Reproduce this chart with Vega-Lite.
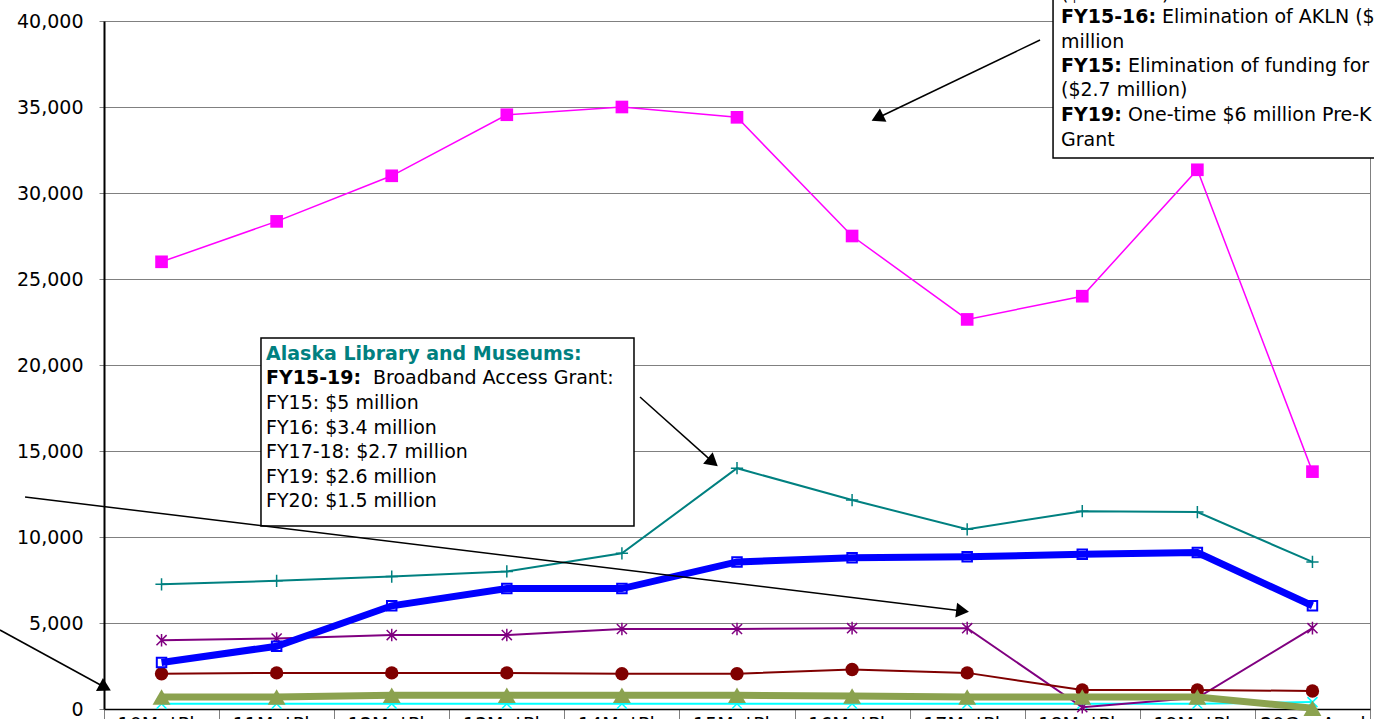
{
  "$schema": "https://vega.github.io/schema/vega-lite/v6.json",
  "autosize": {"type": "none"},
  "padding": {"left": 104, "top": 21, "right": 4, "bottom": 10},
  "width": 1266,
  "height": 688,
  "background": "white",
  "config": {
    "font": "DejaVu Sans",
    "view": {"stroke": "#808080", "strokeWidth": 1},
    "axis": {"labelFont": "DejaVu Sans", "labelFontSize": 19, "labelColor": "black"},
    "axisY": {"grid": true, "gridColor": "#808080", "gridWidth": 1, "gridOpacity": 1, "domainColor": "black", "domainWidth": 2, "tickColor": "#808080", "tickSize": 5, "labelPadding": 16, "labelExpr": "format(datum.value, ',')"}
  },
  "datasets": {
    "series": [
      {"cat": "10MgtPln", "s": "magenta", "value": 26000},
      {"cat": "11MgtPln", "s": "magenta", "value": 28350},
      {"cat": "12MgtPln", "s": "magenta", "value": 31000},
      {"cat": "13MgtPln", "s": "magenta", "value": 34550},
      {"cat": "14MgtPln", "s": "magenta", "value": 35000},
      {"cat": "15MgtPln", "s": "magenta", "value": 34400},
      {"cat": "16MgtPln", "s": "magenta", "value": 27500},
      {"cat": "17MgtPln", "s": "magenta", "value": 22650},
      {"cat": "18MgtPln", "s": "magenta", "value": 24000},
      {"cat": "19MgtPln", "s": "magenta", "value": 31350},
      {"cat": "20GovAmd", "s": "magenta", "value": 13800},
      {"cat": "10MgtPln", "s": "teal", "value": 7250},
      {"cat": "11MgtPln", "s": "teal", "value": 7450},
      {"cat": "12MgtPln", "s": "teal", "value": 7700},
      {"cat": "13MgtPln", "s": "teal", "value": 8000},
      {"cat": "14MgtPln", "s": "teal", "value": 9050},
      {"cat": "15MgtPln", "s": "teal", "value": 14000},
      {"cat": "16MgtPln", "s": "teal", "value": 12150},
      {"cat": "17MgtPln", "s": "teal", "value": 10450},
      {"cat": "18MgtPln", "s": "teal", "value": 11500},
      {"cat": "19MgtPln", "s": "teal", "value": 11450},
      {"cat": "20GovAmd", "s": "teal", "value": 8550},
      {"cat": "10MgtPln", "s": "cyan", "value": 300},
      {"cat": "11MgtPln", "s": "cyan", "value": 300},
      {"cat": "12MgtPln", "s": "cyan", "value": 300},
      {"cat": "13MgtPln", "s": "cyan", "value": 300},
      {"cat": "14MgtPln", "s": "cyan", "value": 300},
      {"cat": "15MgtPln", "s": "cyan", "value": 300},
      {"cat": "16MgtPln", "s": "cyan", "value": 300},
      {"cat": "17MgtPln", "s": "cyan", "value": 300},
      {"cat": "18MgtPln", "s": "cyan", "value": 300},
      {"cat": "19MgtPln", "s": "cyan", "value": 300},
      {"cat": "20GovAmd", "s": "cyan", "value": 400},
      {"cat": "10MgtPln", "s": "purple", "value": 4000},
      {"cat": "11MgtPln", "s": "purple", "value": 4100},
      {"cat": "12MgtPln", "s": "purple", "value": 4300},
      {"cat": "13MgtPln", "s": "purple", "value": 4300},
      {"cat": "14MgtPln", "s": "purple", "value": 4650},
      {"cat": "15MgtPln", "s": "purple", "value": 4650},
      {"cat": "16MgtPln", "s": "purple", "value": 4700},
      {"cat": "17MgtPln", "s": "purple", "value": 4700},
      {"cat": "18MgtPln", "s": "purple", "value": 100},
      {"cat": "19MgtPln", "s": "purple", "value": 650},
      {"cat": "20GovAmd", "s": "purple", "value": 4700},
      {"cat": "10MgtPln", "s": "darkred", "value": 2050},
      {"cat": "11MgtPln", "s": "darkred", "value": 2100},
      {"cat": "12MgtPln", "s": "darkred", "value": 2100},
      {"cat": "13MgtPln", "s": "darkred", "value": 2100},
      {"cat": "14MgtPln", "s": "darkred", "value": 2050},
      {"cat": "15MgtPln", "s": "darkred", "value": 2050},
      {"cat": "16MgtPln", "s": "darkred", "value": 2300},
      {"cat": "17MgtPln", "s": "darkred", "value": 2100},
      {"cat": "18MgtPln", "s": "darkred", "value": 1100},
      {"cat": "19MgtPln", "s": "darkred", "value": 1100},
      {"cat": "20GovAmd", "s": "darkred", "value": 1050},
      {"cat": "10MgtPln", "s": "olive", "value": 700},
      {"cat": "11MgtPln", "s": "olive", "value": 700},
      {"cat": "12MgtPln", "s": "olive", "value": 800},
      {"cat": "13MgtPln", "s": "olive", "value": 800},
      {"cat": "14MgtPln", "s": "olive", "value": 800},
      {"cat": "15MgtPln", "s": "olive", "value": 800},
      {"cat": "16MgtPln", "s": "olive", "value": 750},
      {"cat": "17MgtPln", "s": "olive", "value": 700},
      {"cat": "18MgtPln", "s": "olive", "value": 700},
      {"cat": "19MgtPln", "s": "olive", "value": 700},
      {"cat": "20GovAmd", "s": "olive", "value": 50},
      {"cat": "10MgtPln", "s": "blue", "value": 2700},
      {"cat": "11MgtPln", "s": "blue", "value": 3650},
      {"cat": "12MgtPln", "s": "blue", "value": 6000},
      {"cat": "13MgtPln", "s": "blue", "value": 7000},
      {"cat": "14MgtPln", "s": "blue", "value": 7000},
      {"cat": "15MgtPln", "s": "blue", "value": 8550},
      {"cat": "16MgtPln", "s": "blue", "value": 8800},
      {"cat": "17MgtPln", "s": "blue", "value": 8850},
      {"cat": "18MgtPln", "s": "blue", "value": 9000},
      {"cat": "19MgtPln", "s": "blue", "value": 9100},
      {"cat": "20GovAmd", "s": "blue", "value": 6000}
    ],
    "boxes": [
      {"id": "lib", "x": 1.364, "x2": 4.605, "value": 10640, "value2": 21570},
      {"id": "top", "x": 8.246, "x2": 11.6, "value": 32035, "value2": 41800}
    ],
    "arrows": [
      {"id": "a", "x": 8.133, "value": 38896, "x2": 6.720, "value2": 34360},
      {"id": "b", "x": 4.657, "value": 18140, "x2": 5.290, "value2": 14350},
      {"id": "c", "x": -0.686, "value": 12326, "x2": 7.460, "value2": 5700},
      {"id": "d", "x": -0.904, "value": 4593, "x2": 0.010, "value2": 1250}
    ],
    "noteTitle": [
      {"text": "Alaska Library and Museums:", "x": 1.408, "value": 20640}
    ],
    "noteBold": [
      {"text": "FY15-19:", "x": 1.408, "value": 19244},
      {"text": "FY15-16:", "x": 8.315, "value": 40233},
      {"text": "FY15:", "x": 8.315, "value": 37384},
      {"text": "FY19:", "x": 8.315, "value": 34535}
    ],
    "notePlain": [
      {"text": "Broadband Access Grant:", "x": 2.337, "value": 19244},
      {"text": "FY15: $5 million", "x": 1.408, "value": 17791},
      {"text": "FY16: $3.4 million", "x": 1.408, "value": 16337},
      {"text": "FY17-18: $2.7 million", "x": 1.408, "value": 14942},
      {"text": "FY19: $2.6 million", "x": 1.408, "value": 13488},
      {"text": "FY20: $1.5 million", "x": 1.408, "value": 12093},
      {"text": "($4 million)", "x": 8.315, "value": 41570},
      {"text": "Elimination of AKLN ($1.1", "x": 9.193, "value": 40233},
      {"text": "million", "x": 8.315, "value": 38779},
      {"text": "Elimination of funding for Head Start", "x": 8.897, "value": 37384},
      {"text": "($2.7 million)", "x": 8.315, "value": 35989},
      {"text": "One-time  $6 million Pre-K", "x": 8.897, "value": 34535},
      {"text": "Grant", "x": 8.315, "value": 33082}
    ]
  },
  "layer": [
    {
      "data": {"name": "series"},
      "encoding": {
        "x": {
          "field": "cat", "type": "ordinal", "title": null,
          "sort": null,
          "scale": {"type": "band", "paddingInner": 0, "paddingOuter": 0},
          "axis": {"tickBand": "extent", "labelAngle": 0, "tickSize": 10, "tickColor": "#808080", "domainColor": "black", "domainWidth": 1.5, "labelPadding": -4, "grid": false, "labelBaseline": "top"}
        },
        "y": {
          "field": "value", "type": "quantitative", "title": null,
          "scale": {"domain": [0, 40000], "nice": false},
          "axis": {"values": [0, 5000, 10000, 15000, 20000, 25000, 30000, 35000, 40000], "labelExpr": "format(datum.value, ',')"}
        }
      },
      "layer": [
        {"transform": [{"filter": "datum.s === 'magenta'"}],
         "mark": {"type": "line", "color": "#FF00FF", "strokeWidth": 1.5,
                  "point": {"shape": "square", "filled": true, "color": "#FF00FF", "size": 160}}},
        {"transform": [{"filter": "datum.s === 'teal'"}],
         "mark": {"type": "line", "color": "#008080", "strokeWidth": 2,
                  "point": {"shape": "M-1,0L1,0M0,-1L0,1", "filled": false, "color": "#008080", "strokeWidth": 1.5, "size": 150}}},
        {"transform": [{"filter": "datum.s === 'cyan'"}],
         "mark": {"type": "line", "color": "#00FFFF", "strokeWidth": 2,
                  "point": {"shape": "M-1,-1L1,1M-1,1L1,-1", "filled": false, "color": "#00FFFF", "strokeWidth": 1.5, "size": 100}}},
        {"transform": [{"filter": "datum.s === 'purple'"}],
         "mark": {"type": "line", "color": "#800080", "strokeWidth": 2,
                  "point": {"shape": "M0,-1L0,1M-0.8,-0.8L0.8,0.8M-0.8,0.8L0.8,-0.8", "filled": false, "color": "#800080", "strokeWidth": 1.5, "size": 160}}},
        {"transform": [{"filter": "datum.s === 'darkred'"}],
         "mark": {"type": "line", "color": "#800000", "strokeWidth": 2,
                  "point": {"shape": "circle", "filled": true, "color": "#800000", "size": 180}}},
        {"transform": [{"filter": "datum.s === 'olive'"}],
         "mark": {"type": "line", "color": "#8BA24F", "strokeWidth": 7,
                  "point": {"shape": "triangle-up", "filled": true, "color": "#8BA24F", "size": 320}}},
        {"transform": [{"filter": "datum.s === 'blue'"}],
         "mark": {"type": "point", "shape": "square", "filled": true, "fill": "white", "stroke": "#0000FF", "strokeWidth": 2, "opacity": 1, "size": 90}},
        {"transform": [{"filter": "datum.s === 'blue'"}],
         "mark": {"type": "line", "color": "#0000FF", "strokeWidth": 7}}
      ]
    },
    {
      "data": {"name": "boxes"},
      "mark": {"type": "rect", "fill": "white", "stroke": "black", "strokeWidth": 1.5},
      "encoding": {
        "x": {"field": "x", "type": "quantitative", "scale": {"domain": [0, 11], "nice": false, "zero": false}, "axis": null},
        "x2": {"field": "x2"},
        "y": {"field": "value", "type": "quantitative", "title": null, "scale": {"domain": [0, 40000], "nice": false}},
        "y2": {"field": "value2"}
      }
    },
    {
      "data": {"name": "noteTitle"},
      "mark": {"type": "text", "align": "left", "baseline": "middle", "font": "DejaVu Sans", "fontSize": 19, "fontWeight": "bold", "color": "#008080"},
      "encoding": {
        "x": {"field": "x", "type": "quantitative", "scale": {"domain": [0, 11], "nice": false, "zero": false}, "axis": null},
        "y": {"field": "value", "type": "quantitative", "title": null, "scale": {"domain": [0, 40000], "nice": false}},
        "text": {"field": "text"}
      }
    },
    {
      "data": {"name": "noteBold"},
      "mark": {"type": "text", "align": "left", "baseline": "middle", "font": "DejaVu Sans", "fontSize": 19, "fontWeight": "bold", "color": "black"},
      "encoding": {
        "x": {"field": "x", "type": "quantitative", "scale": {"domain": [0, 11], "nice": false, "zero": false}, "axis": null},
        "y": {"field": "value", "type": "quantitative", "title": null, "scale": {"domain": [0, 40000], "nice": false}},
        "text": {"field": "text"}
      }
    },
    {
      "data": {"name": "notePlain"},
      "mark": {"type": "text", "align": "left", "baseline": "middle", "font": "DejaVu Sans", "fontSize": 19, "color": "black"},
      "encoding": {
        "x": {"field": "x", "type": "quantitative", "scale": {"domain": [0, 11], "nice": false, "zero": false}, "axis": null},
        "y": {"field": "value", "type": "quantitative", "title": null, "scale": {"domain": [0, 40000], "nice": false}},
        "text": {"field": "text"}
      }
    },
    {
      "data": {"name": "arrows"},
      "mark": {"type": "rule", "color": "black", "strokeWidth": 1.5},
      "encoding": {
        "x": {"field": "x", "type": "quantitative", "scale": {"domain": [0, 11], "nice": false, "zero": false}, "axis": null},
        "x2": {"field": "x2"},
        "y": {"field": "value", "type": "quantitative", "title": null, "scale": {"domain": [0, 40000], "nice": false}},
        "y2": {"field": "value2"}
      }
    },
    {
      "data": {"name": "arrows"},
      "transform": [{"filter": "datum.id === 'a'"}],
      "mark": {"type": "point", "shape": "triangle-up", "filled": true, "color": "black", "opacity": 1, "size": 220, "angle": 244},
      "encoding": {
        "x": {"field": "x2", "type": "quantitative", "scale": {"domain": [0, 11], "nice": false, "zero": false}, "axis": null},
        "y": {"field": "value2", "type": "quantitative", "title": null, "scale": {"domain": [0, 40000], "nice": false}}
      }
    },
    {
      "data": {"name": "arrows"},
      "transform": [{"filter": "datum.id === 'b'"}],
      "mark": {"type": "point", "shape": "triangle-up", "filled": true, "color": "black", "opacity": 1, "size": 220, "angle": 130},
      "encoding": {
        "x": {"field": "x2", "type": "quantitative", "scale": {"domain": [0, 11], "nice": false, "zero": false}, "axis": null},
        "y": {"field": "value2", "type": "quantitative", "title": null, "scale": {"domain": [0, 40000], "nice": false}}
      }
    },
    {
      "data": {"name": "arrows"},
      "transform": [{"filter": "datum.id === 'c'"}],
      "mark": {"type": "point", "shape": "triangle-up", "filled": true, "color": "black", "opacity": 1, "size": 220, "angle": 97},
      "encoding": {
        "x": {"field": "x2", "type": "quantitative", "scale": {"domain": [0, 11], "nice": false, "zero": false}, "axis": null},
        "y": {"field": "value2", "type": "quantitative", "title": null, "scale": {"domain": [0, 40000], "nice": false}}
      }
    },
    {
      "data": {"name": "arrows"},
      "transform": [{"filter": "datum.id === 'd'"}],
      "mark": {"type": "point", "shape": "triangle-up", "filled": true, "color": "black", "opacity": 1, "size": 220, "angle": 118},
      "encoding": {
        "x": {"field": "x2", "type": "quantitative", "scale": {"domain": [0, 11], "nice": false, "zero": false}, "axis": null},
        "y": {"field": "value2", "type": "quantitative", "title": null, "scale": {"domain": [0, 40000], "nice": false}}
      }
    }
  ],
  "resolve": {"scale": {"x": "independent"}, "axis": {"x": "independent"}}
}
